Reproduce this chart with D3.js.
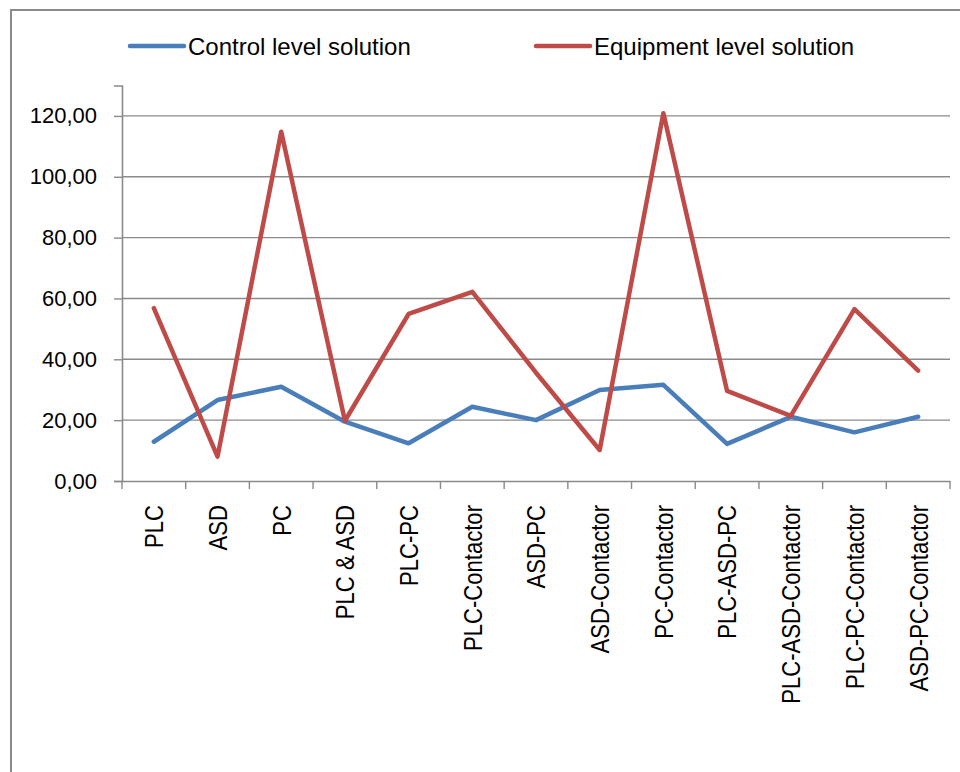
<!DOCTYPE html>
<html>
<head>
<meta charset="utf-8">
<script src="https://cdn.jsdelivr.net/npm/d3@7"></script>
<style>
  html, body { margin: 0; padding: 0; background: #fff; }
  svg { display: block; }
</style>
</head>
<body>
<svg id="chart" width="960" height="772"></svg>
<script>
// Solution types along the horizontal axis
const categories = [
  "PLC", "ASD", "PC", "PLC & ASD", "PLC-PC", "PLC-Contactor", "ASD-PC",
  "ASD-Contactor", "PC-Contactor", "PLC-ASD-PC", "PLC-ASD-Contactor",
  "PLC-PC-Contactor", "ASD-PC-Contactor"
];

// Series values
const controlLevel = [12.9, 26.6, 31.0, 19.5, 12.4, 24.4, 20.0, 29.9, 31.6, 12.2, 21.1, 16.0, 21.1];
const equipmentLevel = [56.8, 8.0, 114.8, 19.8, 54.9, 62.2, 35.6, 10.2, 120.9, 29.6, 21.4, 56.5, 36.3];

const seriesNames = ["Control level solution", "Equipment level solution"];
const yTicks = [0, 20, 40, 60, 80, 100, 120];
const yMax = 130;

const colors = ["#4A7EBB", "#BE4B48"];
const gridColor = "#8a8a8a";
const font = "'Liberation Sans', Arial, sans-serif";

const svg = d3.select("#chart");

// outer chart frame
svg.append("rect")
  .attr("x", 11).attr("y", 10)
  .attr("width", 1000).attr("height", 800)
  .attr("fill", "none")
  .attr("stroke", gridColor)
  .attr("stroke-width", 2);

const plotLeft = 122, plotRight = 950, plotTop = 85.5, plotBottom = 481;

const x = d3.scaleBand().domain(categories).range([plotLeft, plotRight]).padding(0);
const y = d3.scaleLinear().domain([0, yMax]).range([plotBottom, plotTop]);

const locale = d3.formatLocale({ decimal: ",", thousands: ".", grouping: [3], currency: ["", ""] });
const fmt = locale.format(".2f");

// horizontal gridlines
svg.append("g")
  .selectAll("line")
  .data(yTicks.filter(d => d > 0))
  .join("line")
  .attr("x1", plotLeft).attr("x2", plotRight)
  .attr("y1", d => y(d)).attr("y2", d => y(d))
  .attr("stroke", gridColor)
  .attr("stroke-width", 1.4);

// y axis
const yAxis = svg.append("g")
  .attr("transform", `translate(${plotLeft},0)`)
  .call(d3.axisLeft(y).tickValues(yTicks).tickFormat(fmt).tickSize(8).tickPadding(17));
yAxis.select(".domain").attr("stroke", gridColor).attr("stroke-width", 1.6);
yAxis.selectAll(".tick line").attr("stroke", gridColor).attr("stroke-width", 1.4);
yAxis.selectAll(".tick text")
  .attr("fill", "#000")
  .style("font-family", font)
  .style("font-size", "22px");

// x axis with ticks at category boundaries
const xAxis = svg.append("g")
  .attr("transform", `translate(0,${plotBottom})`)
  .call(d3.axisBottom(x).tickSize(0).tickFormat(""));
xAxis.select(".domain").attr("stroke", gridColor).attr("stroke-width", 1.6);
xAxis.selectAll(".tick").remove();

const boundaries = categories.map(c => x(c)).concat([plotRight]);
xAxis.selectAll("line.boundary")
  .data(boundaries)
  .join("line")
  .attr("class", "boundary")
  .attr("x1", d => d).attr("x2", d => d)
  .attr("y1", 0).attr("y2", 8)
  .attr("stroke", gridColor)
  .attr("stroke-width", 1.4);

// rotated, condensed category labels
svg.append("g")
  .selectAll("text")
  .data(categories)
  .join("text")
  .attr("transform", d => `translate(${x(d) + x.bandwidth() / 2},${plotBottom + 24}) rotate(-90) scale(0.85,1)`)
  .attr("text-anchor", "end")
  .attr("dy", "0.36em")
  .style("font-family", font)
  .style("font-size", "26px")
  .attr("fill", "#000")
  .text(d => d);

// series lines
const series = [controlLevel, equipmentLevel];
const line = d3.line()
  .x((d, i) => x(categories[i]) + x.bandwidth() / 2)
  .y(d => y(d));

svg.append("g")
  .selectAll("path")
  .data(series)
  .join("path")
  .attr("d", d => line(d))
  .attr("fill", "none")
  .attr("stroke", (d, i) => colors[i])
  .attr("stroke-width", 4.5)
  .attr("stroke-linejoin", "round")
  .attr("stroke-linecap", "round");

// legend
const legendX = [130, 536];
const legend = svg.append("g")
  .selectAll("g")
  .data(seriesNames)
  .join("g")
  .attr("transform", (d, i) => `translate(${legendX[i]},46)`);
legend.append("line")
  .attr("x1", 0).attr("x2", 54)
  .attr("y1", 0).attr("y2", 0)
  .attr("stroke", (d, i) => colors[i])
  .attr("stroke-width", 4.5)
  .attr("stroke-linecap", "round");
legend.append("text")
  .attr("x", 58)
  .attr("dy", "0.36em")
  .style("font-family", font)
  .style("font-size", "24px")
  .attr("fill", "#000")
  .text(d => d);
</script>
</body>
</html>
